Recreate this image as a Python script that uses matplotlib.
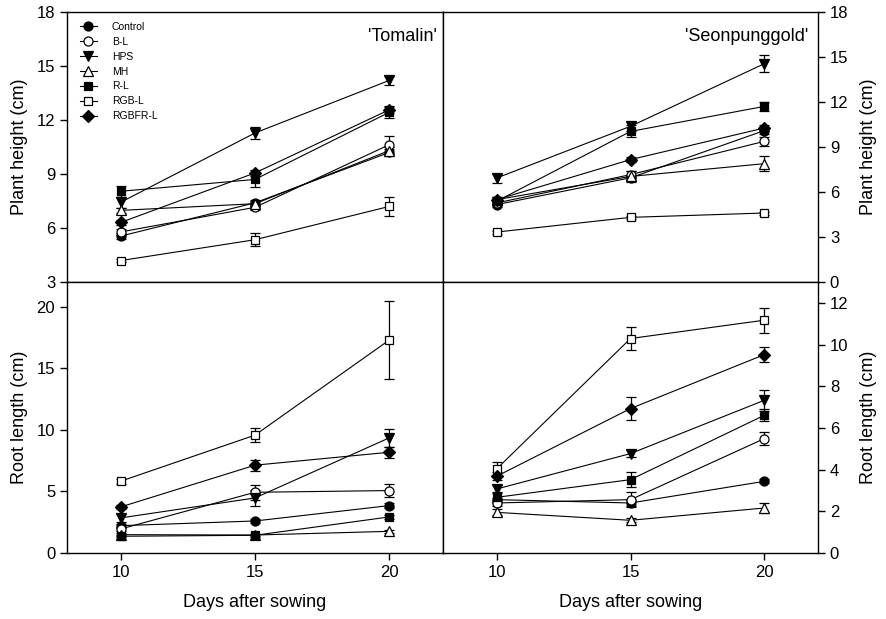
import matplotlib
matplotlib.use("Agg")
import matplotlib.pyplot as plt

plt.rcParams['font.family'] = ['Liberation Sans', 'DejaVu Sans']

days = [10, 15, 20]
treatments = ["Control", "B-L", "HPS", "MH", "R-L", "RGB-L", "RGBFR-L"]

# Plant height, 'Tomalin'
ph_tom = {
    "Control": [5.55, 7.40, 10.20],
    "B-L":     [5.78, 7.15, 10.63],
    "HPS":     [7.43, 11.28, 14.20],
    "MH":      [6.98, 7.35, 10.30],
    "R-L":     [8.04, 8.70, 12.43],
    "RGB-L":   [4.19, 5.35, 7.20],
    "RGBFR-L": [6.31, 9.06, 12.57],
}
ph_tom_err = {
    "Control": [0.15, 0.15, 0.20],
    "B-L":     [0.15, 0.15, 0.50],
    "HPS":     [0.30, 0.35, 0.25],
    "MH":      [0.15, 0.15, 0.20],
    "R-L":     [0.30, 0.40, 0.30],
    "RGB-L":   [0.10, 0.35, 0.55],
    "RGBFR-L": [0.15, 0.15, 0.20],
}
# Plant height, 'Seonpunggold'
ph_seo = {
    "Control": [5.16, 6.95, 10.10],
    "B-L":     [5.27, 7.16, 9.38],
    "HPS":     [6.93, 10.38, 14.56],
    "MH":      [5.49, 7.04, 7.89],
    "R-L":     [5.38, 10.04, 11.71],
    "RGB-L":   [3.33, 4.31, 4.60],
    "RGBFR-L": [5.49, 8.16, 10.27],
}
ph_seo_err = {
    "Control": [0.15, 0.15, 0.25],
    "B-L":     [0.15, 0.25, 0.30],
    "HPS":     [0.30, 0.30, 0.55],
    "MH":      [0.15, 0.35, 0.50],
    "R-L":     [0.20, 0.40, 0.30],
    "RGB-L":   [0.10, 0.10, 0.10],
    "RGBFR-L": [0.15, 0.15, 0.20],
}
# Root length, 'Tomalin'
rl_tom = {
    "Control": [2.22, 2.60, 3.85],
    "B-L":     [1.95, 4.93, 5.07],
    "HPS":     [2.85, 4.47, 9.35],
    "MH":      [1.49, 1.46, 1.76],
    "R-L":     [1.36, 1.44, 2.93],
    "RGB-L":   [5.83, 9.57, 17.29],
    "RGBFR-L": [3.74, 7.13, 8.18],
}
rl_tom_err = {
    "Control": [0.15, 0.15, 0.20],
    "B-L":     [0.20, 0.60, 0.50],
    "HPS":     [0.30, 0.65, 0.75],
    "MH":      [0.10, 0.10, 0.10],
    "R-L":     [0.10, 0.10, 0.15],
    "RGB-L":   [0.20, 0.55, 3.15],
    "RGBFR-L": [0.15, 0.45, 0.45],
}
# Root length, 'Seonpunggold'
rl_seo = {
    "Control": [2.56, 2.40, 3.44],
    "B-L":     [2.40, 2.56, 5.49],
    "HPS":     [3.07, 4.77, 7.33],
    "MH":      [1.95, 1.57, 2.16],
    "R-L":     [2.67, 3.52, 6.61],
    "RGB-L":   [4.03, 10.29, 11.17],
    "RGBFR-L": [3.68, 6.93, 9.52],
}
rl_seo_err = {
    "Control": [0.10, 0.15, 0.10],
    "B-L":     [0.15, 0.35, 0.30],
    "HPS":     [0.20, 0.15, 0.50],
    "MH":      [0.15, 0.10, 0.25],
    "R-L":     [0.25, 0.35, 0.30],
    "RGB-L":   [0.35, 0.55, 0.60],
    "RGBFR-L": [0.20, 0.55, 0.35],
}

styles = {
    "Control": dict(marker="o", mfc="black", ms=6.5),
    "B-L":     dict(marker="o", mfc="white", ms=6.5),
    "HPS":     dict(marker="v", mfc="black", ms=7),
    "MH":      dict(marker="^", mfc="white", ms=7),
    "R-L":     dict(marker="s", mfc="black", ms=6),
    "RGB-L":   dict(marker="s", mfc="white", ms=6),
    "RGBFR-L": dict(marker="D", mfc="black", ms=6),
}

fig = plt.figure(figsize=(8.86, 6.19), dpi=100)
ax_tl = fig.add_axes([0.0756, 0.5444, 0.4244, 0.4362])
ax_tr = fig.add_axes([0.5, 0.5444, 0.4233, 0.4362])
ax_bl = fig.add_axes([0.0756, 0.1066, 0.4244, 0.4378])
ax_br = fig.add_axes([0.5, 0.1066, 0.4233, 0.4378])

def draw(ax, data, err):
    lines = []
    for t in treatments:
        st = styles[t]
        c = ax.errorbar(days, data[t], yerr=err[t], color="black", lw=0.8,
                        elinewidth=0.9, capsize=3.6, capthick=0.9,
                        marker=st["marker"], mfc=st["mfc"], mec="black",
                        mew=0.9, ms=st["ms"], label=t)
        lines.append(c[0])
    ax.set_xlim(8, 22)
    for s in ax.spines.values():
        s.set_linewidth(1.0)
    ax.tick_params(direction="out", length=5, width=1, labelsize=12)
    return lines

leg_lines = draw(ax_tl, ph_tom, ph_tom_err)
draw(ax_tr, ph_seo, ph_seo_err)
draw(ax_bl, rl_tom, rl_tom_err)
draw(ax_br, rl_seo, rl_seo_err)

# y limits / ticks
ax_tl.set_ylim(3, 18)
ax_tl.set_yticks([3, 6, 9, 12, 15, 18])
ax_tr.set_ylim(0, 18)
ax_tr.set_yticks([0, 3, 6, 9, 12, 15, 18])
ax_bl.set_ylim(0, 22)
ax_bl.set_yticks([0, 5, 10, 15, 20])
ax_br.set_ylim(0, 13)
ax_br.set_yticks([0, 2, 4, 6, 8, 10, 12])

for ax in (ax_tl, ax_tr):
    ax.tick_params(axis="x", bottom=False, labelbottom=False)
for ax in (ax_bl, ax_br):
    ax.set_xticks(days)
    ax.set_xlabel("Days after sowing", fontsize=13, labelpad=10)

for ax in (ax_tr, ax_br):
    ax.yaxis.tick_right()
    ax.yaxis.set_label_position("right")

ax_tl.set_ylabel("Plant height (cm)", fontsize=13, labelpad=6)
ax_tr.set_ylabel("Plant height (cm)", fontsize=13, labelpad=8)
ax_bl.set_ylabel("Root length (cm)", fontsize=13, labelpad=6)
ax_br.set_ylabel("Root length (cm)", fontsize=13, labelpad=8)

ax_tl.text(0.985, 0.94, "'Tomalin'", transform=ax_tl.transAxes,
           ha="right", va="top", fontsize=13)
ax_tr.text(0.975, 0.94, "'Seonpunggold'", transform=ax_tr.transAxes,
           ha="right", va="top", fontsize=13)

leg = ax_tl.legend(leg_lines, treatments, loc="upper left", frameon=False,
                   fontsize=7.5, handlelength=1.6, handletextpad=1.45,
                   labelspacing=0.47, borderaxespad=0.0,
                   bbox_to_anchor=(0.0234, 0.979))

fig.savefig("out.png", dpi=100)
